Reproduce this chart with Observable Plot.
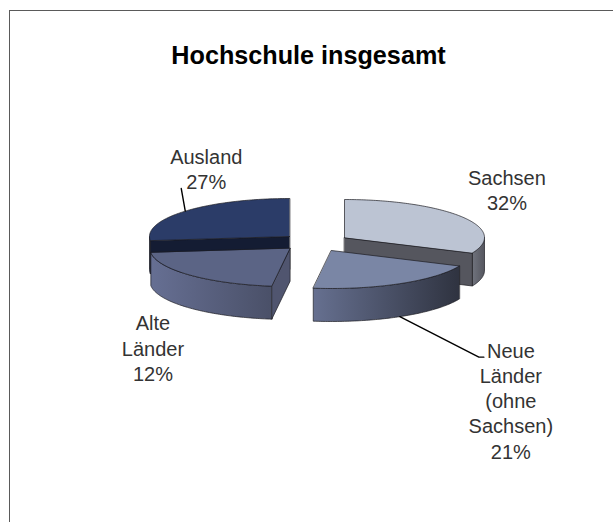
<!DOCTYPE html>
<html>
<head>
<meta charset="utf-8">
<script src="https://cdn.jsdelivr.net/npm/d3@7"></script>
<script src="https://cdn.jsdelivr.net/npm/@observablehq/plot@0.6"></script>
<style>
html,body{margin:0;padding:0;background:#fff}
#chart{position:relative;width:613px;height:522px;overflow:hidden}
#chart svg{display:block}
#border{position:absolute;left:9px;top:10px;right:-5px;bottom:-5px;border:1px solid #5a5a5a}
</style>
</head>
<body>
<div id="chart"><div id="border"></div></div>
<script>
// ---- data ----
const title = "Hochschule insgesamt";
const categories = ["Sachsen", "Neue Länder", "Alte Länder", "Ausland"];
const printedLabels = ["Sachsen\n32%", "Neue\nLänder\n(ohne\nSachsen)\n21%", "Alte\nLänder\n12%", "Ausland\n27%"];
// sector sizes as drawn (the "Alte Länder" sector is drawn larger than its printed 12%)
const drawnShares = [32, 20.6, 21.4, 27];

// ---- look ----
const topColors = ["#bcc4d3", "#7a86a5", "#5b6485", "#2b3c68"];
const wallColors = ["#55565e", "#3a3e4e", "#50556f", "#141c33"];
const rimStops = [["#70737d", "#55565f"], ["#667090", "#2f3340"], ["#666f93", "#4a5068"], ["#1a2340", "#141c33"]];

// ---- layout ----
const W = 613, H = 522;
const rx = 140, ry = 38, depth = 33;
const centers = [[344, 237], [331, 250], [289.5, 248], [289, 236]];
const paintOrder = [3, 0, 2, 1];
const labelShift = [[45, -27.5], [111, 83.5], [-37, 39.5], [21, -43]];
const leaders = {1: [[79, 40.5], [84, 40.5]], 3: [[-4, -22.6]]};

const total = d3.sum(drawnShares);
const cum = d3.cumsum(drawnShares);
const angles = categories.map((_, i) => [
  (i ? cum[i - 1] : 0) / total * 360,
  cum[i] / total * 360
]);
const rad = d => d * Math.PI / 180;
const pt = (i, a, drop = 0, r = 1) => ({
  x: centers[i][0] + r * rx * Math.sin(rad(a)),
  y: centers[i][1] - r * ry * Math.cos(rad(a)) + drop
});
const arc = (i, a0, a1, drop = 0) => {
  const n = Math.max(2, Math.ceil(Math.abs(a1 - a0)));
  return d3.range(n + 1).map(k => pt(i, a0 + (a1 - a0) * k / n, drop));
};
// a point on the visible outer edge at the slice's middle angle
const edgeMid = i => {
  const m = (angles[i][0] + angles[i][1]) / 2;
  return pt(i, m, Math.cos(rad(m)) < 0 ? depth : 0);
};

const faceStyle = {x: "x", y: "y", curve: "linear-closed", stroke: "#1c1c22", strokeWidth: 0.7};
const sliceMarks = paintOrder.flatMap(i => {
  const [a0, a1] = angles[i];
  const marks = [];
  // outer rim: only the part on the front half
  const f0 = Math.max(a0, 90), f1 = Math.min(a1, 270);
  if (f1 > f0) {
    const poly = [...arc(i, f0, f1), ...arc(i, f1, f0, depth)];
    marks.push(Plot.line(poly, {...faceStyle, fill: `url(#rim${i})`}));
  }
  // cut faces: drawn only if they face the viewer
  const c = pt(i, 0, 0, 0);
  if (-Math.cos(rad(a0 - 90)) > 1e-6) {
    const e = pt(i, a0);
    marks.push(Plot.line([c, e, {x: e.x, y: e.y + depth}, {x: c.x, y: c.y + depth}], {...faceStyle, fill: wallColors[i]}));
  }
  if (-Math.cos(rad(a1 + 90)) > 1e-6) {
    const e = pt(i, a1);
    marks.push(Plot.line([c, e, {x: e.x, y: e.y + depth}, {x: c.x, y: c.y + depth}], {...faceStyle, fill: wallColors[i]}));
  }
  // top face
  marks.push(Plot.line([c, ...arc(i, a0, a1)], {...faceStyle, fill: topColors[i]}));
  return marks;
});

const leaderMarks = Object.entries(leaders).map(([k, offs]) => {
  const s = edgeMid(+k);
  return Plot.line([s, ...offs.map(([dx, dy]) => ({x: s.x + dx, y: s.y + dy}))],
    {x: "x", y: "y", stroke: "#000", strokeWidth: 1.4});
});

const labelRows = categories.map((c, i) => {
  const s = edgeMid(i);
  return {text: printedLabels[i], x: s.x + labelShift[i][0], y: s.y + labelShift[i][1]};
});

const gradients = () => {
  const defs = d3.create("svg:defs");
  rimStops.forEach(([a, b], i) => {
    const g = defs.append("linearGradient").attr("id", `rim${i}`)
      .attr("x1", 0).attr("x2", 1).attr("y1", 0).attr("y2", 0);
    g.append("stop").attr("offset", 0).attr("stop-color", a);
    g.append("stop").attr("offset", 1).attr("stop-color", b);
  });
  return defs.node();
};

const chart = Plot.plot({
  width: W, height: H, margin: 0,
  style: {background: "transparent", fontFamily: "'Liberation Sans', Arial, sans-serif"},
  x: {domain: [0, W], range: [0, W], axis: null},
  y: {domain: [0, H], range: [0, H], axis: null},
  marks: [
    gradients,
    ...sliceMarks,
    ...leaderMarks,
    Plot.text(labelRows, {
      x: "x", y: "y", text: "text", fontSize: 20, lineHeight: 1.26,
      fill: "#333", textAnchor: "middle", lineAnchor: "middle"
    }),
    Plot.text([title], {
      frameAnchor: "top", dy: 55, dx: 1.5, fontSize: 25.2, fontWeight: "bold", fill: "#000",
      lineAnchor: "middle"
    })
  ]
});
document.getElementById("chart").appendChild(chart);
</script>
</body>
</html>
